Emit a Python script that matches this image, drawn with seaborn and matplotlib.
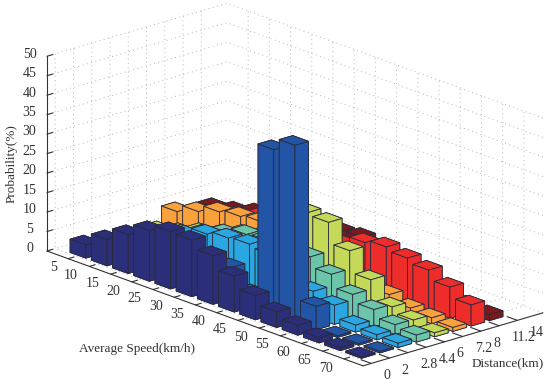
import numpy as np
import seaborn as sns
import matplotlib.pyplot as plt
from mpl_toolkits.mplot3d import proj3d

speed_labels = ['5', '10', '15', '20', '25', '30', '35', '40', '45', '50', '55', '60', '65', '70']
dist_labels = ['0', '2', '2.8', '4.4', '6', '7.2', '8', '11.2', '14']
prob_ticks = [0, 5, 10, 15, 20, 25, 30, 35, 40, 45, 50]

# one list per distance row, front to back, values in percent
row_0 = [3.4, 6.7, 10, 13, 14.7, 14.5, 12.5, 9.2, 6.2, 4, 2.5, 1.3, 0.7, 0.4]
row_1 = [1.5, 3, 5, 7, 8, 8, 8, 3.3, 42.3, 45.4, 6, 0.4, 0.4, 0.4]
row_2 = [1.7, 5, 7, 9.1, 11.3, 12.3, 12.7, 12, 9, 6.5, 4.9, 1.8, 1.3, 1.1]
row_3 = [1, 3, 6, 8, 10, 11.8, 12.2, 12, 12, 9.5, 6.3, 4.4, 2.5, 1.8]
row_4 = [1.5, 3, 5, 6.5, 8.5, 10, 14, 20, 19.5, 14.2, 8.7, 3.7, 2.3, 1]
row_5 = [5, 7, 8.9, 9.7, 10.3, 8, 7, 6, 5, 4.5, 3.5, 2, 1.5, 1]
row_6 = [2.5, 4.5, 6.5, 8, 8, 8, 8.5, 9, 11.5, 12.4, 11.5, 10.4, 8, 5.4]
row_7 = [3.3, 4.4, 5.9, 6, 6, 7, 9, 9.5, 7, 5, 3.5, 2.5, 2, 1.5]
rows = [row_0, row_1, row_2, row_3, row_4, row_5, row_6, row_7]
row_colors = ['#2b2f7a', '#2255a5', '#2aa7e0', '#6cc5a8', '#c3d957', '#f9a13a', '#ee2d2b', '#7b1a1c']

sns.set_style('white')
plt.rcParams['font.family'] = ['Liberation Serif', 'DejaVu Serif']
palette = sns.color_palette(row_colors)

fig = plt.figure(figsize=(5.5, 3.79), dpi=100)
ax = fig.add_axes([0, 0, 1, 1], projection='3d', computed_zorder=False)
ax.set_proj_type('ortho')
ax.view_init(elev=19.1, azim=-42)
ax.set_box_aspect((472, 242, 206), zoom=1.0)

w = 0.74
# the bars sit a little off the ticks in the original
x_off = -0.4
y_off = 0.5
# painter order: back row first, left column first
order = 0
for j in range(len(rows) - 1, -1, -1):
    for i in range(len(speed_labels)):
        bar = ax.bar3d(i - w / 2 + x_off, j - w / 2 + y_off, 0, w, w, rows[j][i], color=palette[j], shade=False,
                       edgecolor='#2a2a3a', linewidth=0.6, zorder=order)
        bar.set_clip_on(False)
        order += 1

ax.set_xlim(-1.36, 13.54)
ax.set_ylim(-0.45, 9.4)
ax.set_zlim(0, 50)
ax.set_xticks(np.arange(14) - 0.36, speed_labels, ha='right', va='bottom')
ax.set_yticks(np.arange(9), dist_labels, ha='left', va='center')
ax.set_zticks(prob_ticks, [str(p) for p in prob_ticks], va='center')
ax.tick_params(axis='both', labelsize=10, colors='#333333')
ax.tick_params(axis='x', pad=1)
ax.tick_params(axis='y', pad=-2.5)
ax.tick_params(axis='z', pad=-3)
ax.zaxis.set_ticks_position('lower')

for axis in [ax.xaxis, ax.yaxis, ax.zaxis]:
    axis.set_pane_color((1, 1, 1, 0))
    axis.pane.set_edgecolor('none')
    axis.line.set_color('#333333')
    axis.line.set_linewidth(0.8)
    axis._axinfo['grid'].update(color='#b5b5b5', linestyle=(0, (1, 3.5)), linewidth=0.7)
    axis._axinfo['tick'].update(inward_factor=0.0, outward_factor=0.4)
    axis._axinfo['tick']['color'] = '#333333'


# fit the projected box onto the reference corners (pixels from top left)
def corner_px(x, y, z):
    px, py, _ = proj3d.proj_transform(x, y, z, ax.get_proj())
    return ax.transData.transform((px, py))


fig.canvas.draw()
a = corner_px(-1.36, -0.45, 0)
b = corner_px(13.54, -0.45, 0)
scale = 316 / (b[0] - a[0])
ax.set_box_aspect((472, 242, 206), zoom=scale)
fig.canvas.draw()
a = corner_px(-1.36, -0.45, 0)
pos = ax.get_position()
ax.set_position([pos.x0 + (47 - a[0]) / 550, pos.y0 + (379 - 251 - a[1]) / 379, pos.width, pos.height])

fig.text(137 / 550, 1 - 349 / 379, 'Average Speed(km/h)', ha='center', va='center', fontsize=9.5, color='#333333')
fig.text(508 / 550, 1 - 363 / 379, 'Distance(km)', ha='center', va='center', fontsize=9.5, color='#333333')
fig.text(12 / 550, 1 - 164 / 379, 'Probability(%)', ha='center', va='center', rotation=90, fontsize=9.5, color='#333333')

fig.savefig('out.png', dpi=100)
